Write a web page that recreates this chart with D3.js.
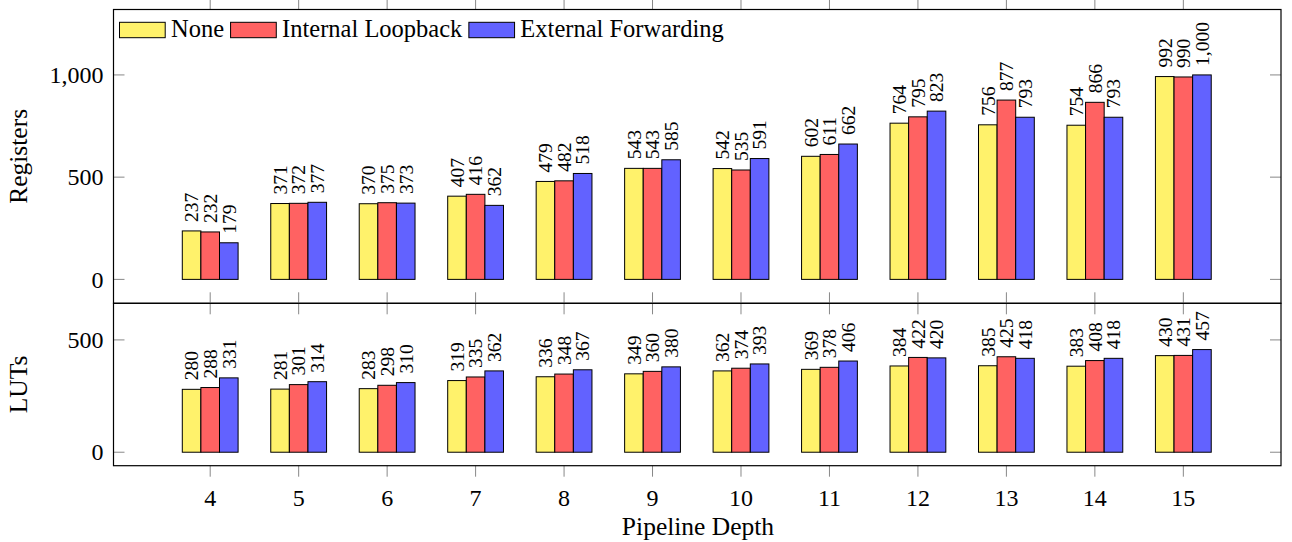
<!DOCTYPE html>
<html><head><meta charset="utf-8">
<script src="https://cdn.jsdelivr.net/npm/d3@7"></script>
<style>body{margin:0;background:#fff}</style>
</head><body><svg id="c" width="1292" height="542" font-family="'Liberation Serif', 'DejaVu Serif', 'Times New Roman', serif"></svg>
<script>
const categories = [4,5,6,7,8,9,10,11,12,13,14,15];
const seriesNames = ["None","Internal Loopback","External Forwarding"];
const regNone = [237,371,370,407,479,543,542,602,764,756,754,992];
const regLoop = [232,372,375,416,482,543,535,611,795,877,866,990];
const regFwd  = [179,377,373,362,518,585,591,662,823,793,793,1000];
const lutNone = [280,281,283,319,336,349,362,369,384,385,383,430];
const lutLoop = [288,301,298,335,348,360,374,378,422,425,408,431];
const lutFwd  = [331,314,310,362,367,380,393,406,420,418,418,457];
const regTicks = [0,500,1000];
const lutTicks = [0,500];
const colors = ["#fff26b","#ff6262","#6262ff"];

const svg = d3.select("#c");
const L = 113.5, R = 1281;
const x = d3.scaleLinear().domain([2.907,16.104]).range([L,R]);
const barW = 18.6;
const fmt = d3.format(",");

function panel(top, bottom, domain, ticks, data, label) {
  const y = d3.scaleLinear().domain(domain).range([bottom, top]);
  const g = svg.append("g");
  data.forEach((vals, si) => {
    g.selectAll(null).data(vals).enter().append("rect")
      .attr("x", (d,i) => x(categories[i]) + (si-1.5)*barW)
      .attr("y", d => y(d))
      .attr("width", barW)
      .attr("height", d => y(0) - y(d))
      .attr("fill", colors[si]).attr("stroke", "#000").attr("stroke-width", 1);
    g.selectAll(null).data(vals).enter().append("text")
      .attr("transform", (d,i) => `translate(${x(categories[i]) + (si-1)*barW},${y(d)-9}) rotate(-90)`)
      .attr("dy", "0.35em")
      .attr("font-size", 19.5)
      .text(d => fmt(d));
  });
  const yt = g.append("g");
  ticks.forEach(t => {
    yt.append("line").attr("x1", L).attr("x2", L+11).attr("y1", y(t)).attr("y2", y(t)).attr("stroke","#888");
    yt.append("line").attr("x1", R-11).attr("x2", R).attr("y1", y(t)).attr("y2", y(t)).attr("stroke","#888");
    yt.append("text").attr("x", L-10).attr("y", y(t)).attr("dy","0.34em").attr("text-anchor","end")
      .attr("font-size", 24).text(fmt(t));
  });
  categories.forEach(c => {
    g.append("line").attr("x1", x(c)).attr("x2", x(c)).attr("y1", top).attr("y2", top-11).attr("stroke","#888");
    g.append("line").attr("x1", x(c)).attr("x2", x(c)).attr("y1", bottom).attr("y2", bottom+11).attr("stroke","#888");
  });
  g.append("rect").attr("x", L).attr("y", top).attr("width", R-L).attr("height", bottom-top)
    .attr("fill","none").attr("stroke","#000").attr("stroke-width",1.2);
  g.append("text").attr("transform", `translate(27,${(top+bottom)/2}) rotate(-90)`)
    .attr("text-anchor","middle").attr("font-size", 25.5).text(label);
  return y;
}

panel(9.5, 303.3, [-117, 1320], regTicks, [regNone, regLoop, regFwd], "Registers");
panel(303.3, 465.7, [-60, 663], lutTicks, [lutNone, lutLoop, lutFwd], "LUTs");

svg.append("g").selectAll("text").data(categories).enter().append("text")
  .attr("x", d => x(d)).attr("y", 506).attr("text-anchor","middle").attr("font-size", 24).text(d => d);
svg.append("text").attr("x", 698).attr("y", 535).attr("text-anchor","middle").attr("font-size", 25.5).text("Pipeline Depth");

const lg = svg.append("g");
let lx = 119.5;
seriesNames.forEach((n, i) => {
  lg.append("rect").attr("x", lx).attr("y", 22.3).attr("width", 45.7).attr("height", 15.4)
    .attr("fill", colors[i]).attr("stroke","#000").attr("stroke-width",1);
  const t = lg.append("text").attr("x", lx + 51.5).attr("y", 36.5).attr("font-size", 24.5).text(n);
  lx += 51.5 + t.node().getComputedTextLength() + 6.5;
});
</script></body></html>
